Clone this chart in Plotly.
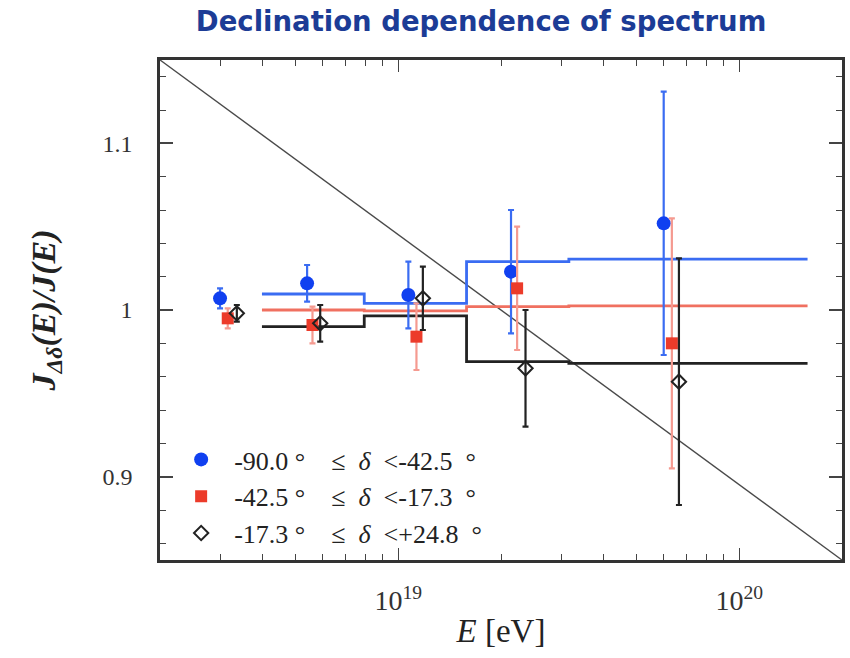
import numpy as np
import plotly.graph_objects as go

# Energy axis range [eV] and ratio axis range
E_RANGE = [2e18, 2e20]
Y_RANGE = [0.85, 1.15]

# Declination bands
bands = [
    "  -90.0 °    ≤  <i>δ</i>  &lt;-42.5  °",
    "  -42.5 °    ≤  <i>δ</i>  &lt;-17.3  °",
    "  -17.3 °    ≤  <i>δ</i>  &lt;+24.8  °",
]

# Measured ratio points per band: energy [eV], ratio, symmetric error
E_south = [3.0e18, 5.4e18, 1.07e19, 2.14e19, 6.0e19]
R_south = [1.007, 1.016, 1.009, 1.023, 1.052]
err_south = [0.006, 0.011, 0.020, 0.037, 0.079]

E_mid = [3.16e18, 5.6e18, 1.13e19, 2.23e19, 6.34e19]
R_mid = [0.995, 0.991, 0.984, 1.013, 0.980]
err_mid = [0.006, 0.011, 0.020, 0.037, 0.075]

E_north = [3.36e18, 5.9e18, 1.18e19, 2.36e19, 6.65e19]
R_north = [0.998, 0.992, 1.007, 0.965, 0.957]
err_north = [0.005, 0.011, 0.019, 0.035, 0.074]

# Fitted step model: bin edges (log10 E) and level per bin
bin_edges_log = [18.6, 18.9, 19.2, 19.5, 20.2]
fit_south = [1.0096, 1.004, 1.029, 1.0305]
fit_mid = [1.000, 0.9995, 1.002, 1.0025]
fit_north = [0.990, 0.9965, 0.969, 0.968]

# Axis ticks
x_major = [1e19, 1e20]
x_major_text = ["10<sup>19</sup>", "10<sup>20</sup>"]
y_major = [0.9, 1.0, 1.1]
y_major_text = ["0.9", "1", "1.1"]

colors = {
    "south": ("#1040f0", "#3a6cf2", "#3a6cf2"),
    "mid": ("#ec3b2a", "#f59a90", "#f07060"),
    "north": ("#111111", "#222222", "#222222"),
}

fig = go.Figure()

# Diagonal guide line across the frame
fig.add_trace(go.Scatter(
    x=E_RANGE, y=[Y_RANGE[1], Y_RANGE[0]], mode="lines",
    line=dict(color="#4a4a4a", width=1.4), showlegend=False, hoverinfo="skip",
))

bin_edges = [10.0 ** v for v in bin_edges_log]


def add_steps(levels, color):
    fig.add_trace(go.Scatter(
        x=bin_edges, y=list(levels) + [levels[-1]], mode="lines",
        line=dict(color=color, width=2.8, shape="hv"),
        showlegend=False, hoverinfo="skip",
    ))


add_steps(fit_south, colors["south"][2])
add_steps(fit_mid, colors["mid"][2])
add_steps(fit_north, colors["north"][2])


def add_points(E, R, err, name, key, symbol, size):
    mcol, ecol, _ = colors[key]
    marker = dict(color=mcol, size=size, symbol=symbol)
    if symbol.endswith("open"):
        marker = dict(color="#222222", size=size, symbol=symbol,
                      line=dict(width=2, color="#222222"))
    fig.add_trace(go.Scatter(
        x=E, y=R, mode="markers", name=name,
        marker=marker,
        error_y=dict(type="data", array=err, visible=True,
                     color=ecol, thickness=2.2, width=3),
    ))


add_points(E_south, R_south, err_south, bands[0], "south", "circle", 14)
add_points(E_mid, R_mid, err_mid, bands[1], "mid", "square", 12)
add_points(E_north, R_north, err_north, bands[2], "north", "diamond-open", 11)

# minor tick positions
x_minor = [float(m) * 10.0 ** d for d in (18, 19) for m in range(2, 10)] + [2e20]
y_minor = [float(v) for v in np.round(np.arange(0.86, 1.15, 0.02), 2)]

serif = "Liberation Serif"

fig.update_layout(
    width=850, height=658,
    margin=dict(l=160, r=5, t=60, b=98),
    paper_bgcolor="white", plot_bgcolor="white",
    title=dict(
        text="<b>Declination dependence of spectrum</b>",
        x=0.566, xanchor="center", y=0.968, yanchor="middle",
        font=dict(family="DejaVu Sans", size=27.5, color="#1c3c96"),
    ),
    font=dict(family=serif, color="#222222"),
    legend=dict(
        x=0.031, y=0.248, xanchor="left", yanchor="top",
        font=dict(family=serif, size=26, color="#222222"),
        bgcolor="rgba(0,0,0,0)", tracegroupgap=0, itemwidth=30,
    ),
    xaxis=dict(
        type="log", range=[float(np.log10(E_RANGE[0])), float(np.log10(E_RANGE[1]))],
        tickvals=x_major, ticktext=x_major_text,
        ticks="inside", ticklen=12, tickwidth=1.3, tickcolor="#444444",
        showline=True, linecolor="#333333", linewidth=2.5, mirror="allticks",
        showgrid=False, zeroline=False,
        tickfont=dict(family=serif, size=28, color="#333333"),
        minor=dict(tickvals=x_minor, ticks="inside", ticklen=6,
                   tickwidth=1.2, tickcolor="#444444", showgrid=False),
        title=dict(text="<i>E</i> [eV]", font=dict(family=serif, size=33, color="#222222"),
                   standoff=4),
        ticklabelstandoff=14,
    ),
    yaxis=dict(
        range=Y_RANGE, tickvals=y_major, ticktext=y_major_text,
        ticks="inside", ticklen=13, tickwidth=1.5, tickcolor="#444444",
        showline=True, linecolor="#333333", linewidth=2.5, mirror="allticks",
        showgrid=False, zeroline=False,
        tickfont=dict(family=serif, size=24, color="#333333"),
        minor=dict(tickvals=y_minor, ticks="inside", ticklen=6,
                   tickwidth=1.2, tickcolor="#444444", showgrid=False),
        title=dict(text="<b><i>J</i><sub><i>Δδ</i></sub><i>(E)/J(E)</i></b>",
                   font=dict(family=serif, size=34, color="#222222"), standoff=37),
        ticklabelstandoff=20,
    ),
)

fig.write_html("out.html")
